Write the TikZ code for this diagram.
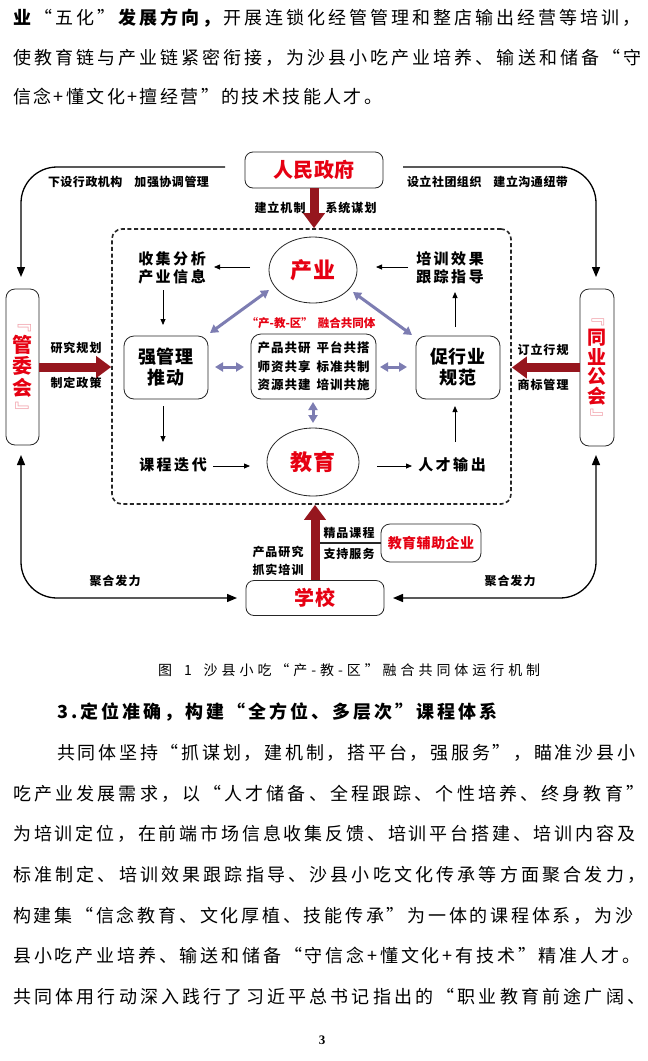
\documentclass[tikz,border=0pt]{standalone}
\usepackage{fontspec}
\usepackage{graphicx}
\setmainfont{Noto Sans CJK SC}
\newfontfamily\serifnum{Liberation Serif}
\usetikzlibrary{arrows.meta,shapes.geometric,calc}
\definecolor{redtxt}{RGB}{230,0,18}
\definecolor{darkred}{RGB}{150,22,30}
\definecolor{lav}{RGB}{125,125,178}
\definecolor{pinkb}{RGB}{240,150,160}
\ExplSyntaxOn
\NewDocumentCommand\jl{mm}{\hbox~to~#1{\skip_horizontal:n{0pt~plus~-1fil}\tl_map_inline:nn{#2}{\hfil{##1}}}}
\NewDocumentCommand\ls{O{1pt}m}{\tl_map_inline:nn{#2}{{##1}\kern#1}\unkern}
\ExplSyntaxOff
\newcommand\vopen{{\mdseries\color{pinkb}\rotatebox[origin=c]{-90}{『}}}
\newcommand\vclose{{\mdseries\color{pinkb}\rotatebox[origin=c]{-90}{』}}}
\tikzset{
  body/.style={anchor=west, inner sep=0pt, font=\fontsize{18}{22}\selectfont},
  box/.style={draw=black!85, line width=0.8pt, rounded corners=8pt, inner sep=0pt},
  ell/.style={draw=black!85, line width=0.8pt, ellipse, inner sep=0pt},
  lab/.style={inner sep=0pt, font=\fontsize{12}{14}\selectfont\bfseries},
  midt/.style={inner sep=0pt, align=center, font=\fontsize{15}{18.5}\selectfont\bfseries},
  bigt/.style={align=center, font=\fontsize{18}{21}\selectfont\bfseries},
  thinarr/.style={line width=0.8pt, -{Triangle[length=6pt,width=5pt]}},
  conn/.style={line width=1.3pt, rounded corners=36pt},
  redarr/.style={draw=darkred, line width=9pt, -{Triangle[length=15pt,width=21pt]}},
  dbl/.style={draw=lav, line width=3pt, {Triangle[length=8pt,width=9pt]}-{Triangle[length=8pt,width=9pt]}},
  frame/.style={draw=black!85, line width=1.6pt, dash pattern=on 4pt off 2.6pt, rounded corners=10pt, inner sep=0pt}
}
\begin{document}
\begin{tikzpicture}[x=1pt,y=-1pt]
\useasboundingbox[fill=white] (0,0) rectangle (648,1061);
% ---------- top text ----------
\node[body] (t1) at (13,18) {\jl{627pt}{{\bfseries 业}“五化”{\bfseries 发}{\bfseries 展}{\bfseries 方}{\bfseries 向}{\bfseries ，}开展连锁化经管管理和整店输出经营等培训，}};
\node[body] (t2) at (13,58) {\jl{628pt}{使教育链与产业链紧密衔接，为沙县小吃产业培养、输送和储备“守}};
\node[body] (t3) at (13,97) {\jl{369pt}{信念+懂文化+擅经营”的技术技能人才。}};
% ---------- diagram ----------
\node[frame, minimum width=399pt, minimum height=275pt] (frame) at (311.5,366.5) {};
\node[box, minimum width=138pt, minimum height=36pt, text=redtxt, font=\fontsize{20}{24}\selectfont\bfseries] (gov) at (314,170) {\ls[0.5pt]{人民政府}};
\node[box, rounded corners=9pt, minimum width=33pt, minimum height=156pt, align=center, text=redtxt, font=\fontsize{20}{21.5}\selectfont\bfseries] (gwh) at (22.5,367) {\vopen\\管\\委\\会\\\vclose};
\node[box, rounded corners=9pt, minimum width=34pt, minimum height=157pt, align=center, text=redtxt, font=\fontsize{19}{19.5}\selectfont\bfseries] (ty) at (597,367.5) {\vopen\\同\\业\\公\\会\\\vclose};
\node[box, minimum width=138pt, minimum height=35pt, text=redtxt, font=\fontsize{20}{24}\selectfont\bfseries] (school) at (315,598) {\ls[1pt]{学校}};
\node[box, rounded corners=9pt, minimum width=100pt, minimum height=38pt, text=redtxt, font=\fontsize{14}{16}\selectfont\bfseries] (aux) at (431,543) {\ls[0.5pt]{教育辅助企业}};

\node[ell, minimum width=88pt, minimum height=66pt, text=redtxt, font=\fontsize{22}{24}\selectfont\bfseries] (ind) at (313,270) {\ls{产业}};
\node[ell, minimum width=92pt, minimum height=68pt, text=redtxt, font=\fontsize{22}{24}\selectfont\bfseries] (edu) at (313,462) {\ls{教育}};

\node[midt] (collect) at (172,268) {\ls[2.5pt]{收集分析}\\\ls[2.5pt]{产业信息}};
\node[midt] (track) at (450,268) {\ls[2.5pt]{培训效果}\\\ls[2.5pt]{跟踪指导}};
\node[midt] (course) at (173,465) {\ls[2.5pt]{课程迭代}};
\node[midt] (talent) at (452,465) {\ls[2.5pt]{人才输出}};

\node[box, rounded corners=10pt, minimum width=84pt, minimum height=63pt, bigt] (mgmt) at (166,367.5) {\ls[0.5pt]{强管理}\\\ls[0.5pt]{推动}};
\node[box, rounded corners=10pt, minimum width=84pt, minimum height=63pt, bigt] (norm) at (458,367.5) {\ls[0.5pt]{促行业}\\\ls[0.5pt]{规范}};
\node[box, rounded corners=10pt, minimum width=125pt, minimum height=65pt, align=center, font=\fontsize{12.5}{18.5}\selectfont\bfseries] (core) at (313.5,366.5) {\ls{产品共研}\hspace{6pt}\ls{平台共搭}\\\ls{师资共享}\hspace{6pt}\ls{标准共制}\\\ls{资源共建}\hspace{6pt}\ls{培训共施}};
\node[inner sep=0pt, text=redtxt, font=\fontsize{11.5}{13}\selectfont\bfseries] (corelab) at (311,323) {“产-教-区”\hspace{5pt}融合共同体};

% labels
\node[lab] (l1) at (128.5,182) {\ls[0.5pt]{下设行政机构}\hspace{12pt}\ls[0.5pt]{加强协调管理}};
\node[lab] (l2) at (487.5,182) {\ls[0.5pt]{设立社团组织}\hspace{12pt}\ls[0.5pt]{建立沟通纽带}};
\node[lab] (l3) at (280,208) {\ls{建立机制}};
\node[lab] (l4) at (351,208) {\ls{系统谋划}};
\node[lab] (l5) at (76,348) {\ls{研究规划}};
\node[lab] (l6) at (76,383) {\ls{制定政策}};
\node[lab] (l7) at (543,350) {\ls{订立行规}};
\node[lab] (l8) at (543,385) {\ls{商标管理}};
\node[lab] (l9) at (349,533) {\ls{精品课程}};
\node[lab] (l10) at (349,554) {\ls{支持服务}};
\node[lab] (l11) at (278,552) {\ls{产品研究}};
\node[lab] (l12) at (278,570) {\ls{抓实培训}};
\node[lab] (l13) at (115,581) {\ls{聚合发力}};
\node[lab] (l14) at (510,581) {\ls{聚合发力}};

% red arrows
\draw[redarr] (gov.south) -- (gov.south |- frame.north);
\draw[redarr] (gwh.east) -- (gwh.east -| frame.west);
\draw[redarr] (ty.west) -- (ty.west -| frame.east);
\draw[redarr] (school.north) -- (school.north |- frame.south);
\draw[line width=1.1pt, black!85] ($(school.north |- aux.west)+(5,0)$) -- (aux.west);

% thin arrows inside
\draw[thinarr] ($(ind.center)+(-63,-3)$) -- ($(collect.center)+(42,-1)$);
\draw[thinarr] ($(track.center)+(-42,-1)$) -- ($(ind.center)+(63,-3)$);
\draw[thinarr] ($(collect.center)+(-9,22)$) -- ($(mgmt.center)+(-3,-42.5)$);
\draw[thinarr] ($(mgmt.center)+(-3,38.5)$) -- ($(course.center)+(-10,-23)$);
\draw[thinarr] ($(course.center)+(40,1)$) -- ($(edu.center)+(-63,4)$);
\draw[thinarr] ($(edu.center)+(64,4)$) -- ($(talent.center)+(-40,1)$);
\draw[thinarr] ($(talent.center)+(3,-23)$) -- ($(norm.center)+(-3,38.5)$);
\draw[thinarr] ($(norm.center)+(-3,-40.5)$) -- ($(track.center)+(5,24)$);

% double arrows
\draw[dbl] ($(mgmt.center)+(49,-0.5)$) -- ($(core.center)+(-69.5,0.5)$);
\draw[dbl] ($(core.center)+(66.5,0.5)$) -- ($(norm.center)+(-51,-0.5)$);
\draw[dbl] ($(core.center)+(-0.5,35.5)$) -- ($(edu.center)+(0,-39)$);
\draw[dbl] ($(ind.center)+(-44,20)$) -- ($(mgmt.center)+(44,-34.5)$);
\draw[dbl] ($(ind.center)+(40,22)$) -- ($(norm.center)+(-46,-32.5)$);

% outer connectors
\draw[conn, -{Triangle[length=10pt,width=8pt]}] ($(gov.center)+(-89,-3)$) -| ($(gwh.center)+(-1.5,-90)$);
\draw[conn, -{Triangle[length=10pt,width=8pt]}] ($(gov.center)+(89,-3)$) -| ($(ty.center)+(-1,-90.5)$);
\draw[conn, {Triangle[length=10pt,width=8pt]}-{Triangle[length=10pt,width=8pt]}] ($(gwh.center)+(-1.5,88)$) |- ($(school.center)+(-78,0)$);
\draw[conn, {Triangle[length=10pt,width=8pt]}-{Triangle[length=10pt,width=8pt]}] ($(ty.center)+(-1,87.5)$) |- ($(school.center)+(78,0)$);

% ---------- caption and lower text ----------
\node[anchor=west, inner sep=0pt, font=\fontsize{14}{17}\selectfont] (cap) at (158,670) {\jl{382pt}{图{\hspace{4pt}}1{\hspace{4pt}}沙县小吃“产-教-区”融合共同体运行机制}};
\node[body, font=\fontsize{18}{22}\selectfont\bfseries] (h3) at (57,712) {\jl{440pt}{3.定位准确，构建“全方位、多层次”课程体系}};
\node[body] (p1) at (57,753) {\jl{578pt}{共同体坚持“抓谋划，建机制，搭平台，强服务”，瞄准沙县小}};
\node[body] (p2) at (13,794) {\jl{631pt}{吃产业发展需求，以“人才储备、全程跟踪、个性培养、终身教育”}};
\node[body] (p3) at (13,834) {\jl{622pt}{为培训定位，在前端市场信息收集反馈、培训平台搭建、培训内容及}};
\node[body] (p4) at (13,875) {\jl{632pt}{标准制定、培训效果跟踪指导、沙县小吃文化传承等方面聚合发力，}};
\node[body] (p5) at (13,916) {\jl{620pt}{构建集“信念教育、文化厚植、技能传承”为一体的课程体系，为沙}};
\node[body] (p6) at (13,956) {\jl{627pt}{县小吃产业培养、输送和储备“守信念+懂文化+有技术”精准人才。}};
\node[body] (p7) at (13,997) {\jl{632pt}{共同体用行动深入践行了习近平总书记指出的“职业教育前途广阔、}};
\node[inner sep=0pt, font=\serifnum\fontsize{13}{15}\selectfont\bfseries] (pg) at (322,1040) {3};
\end{tikzpicture}
\end{document}
